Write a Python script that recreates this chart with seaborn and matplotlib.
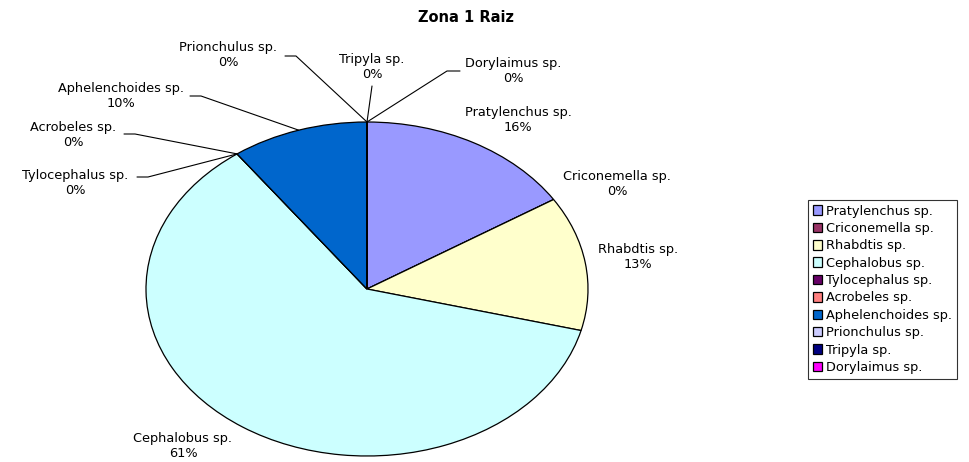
import matplotlib
matplotlib.use("Agg")
import matplotlib.pyplot as plt
import seaborn as sns
import numpy as np

# datos
especies = ["Pratylenchus sp.", "Criconemella sp.", "Rhabdtis sp.", "Cephalobus sp.",
            "Tylocephalus sp.", "Acrobeles sp.", "Aphelenchoides sp.", "Prionchulus sp.",
            "Tripyla sp.", "Dorylaimus sp."]
porcentajes = [16, 0, 13, 61, 0, 0, 10, 0, 0, 0]
colores = ["#9999FF", "#993366", "#FFFFCC", "#CCFFFF", "#660066",
           "#FF8080", "#0066CC", "#CCCCFF", "#000080", "#FF00FF"]
titulo = "Zona 1 Raiz"

# layout (pixeles de la imagen)
W, H = 970, 462
CX, CY, RX, RY = 367, 289, 221, 167
# centro del texto de cada etiqueta
pos_etiquetas = [(518, 120), (617, 184), (638, 257), (183, 446), (75, 183),
                 (73, 135), (121, 96), (228, 55), (372, 67), (513, 71)]
# inicio del tramo horizontal de la linea guia (None = sin linea)
guias = [None, None, None, None, (137, 177), (124, 134), (190, 96), (285, 56),
         (372, 86), (460, 71)]


def px(x, y):
    return (x - CX) / RX, (CY - y) / RY


sns.set_theme(style="white")
plt.rcParams["font.family"] = ["DejaVu Sans"]
plt.rcParams["text.color"] = "black"

fig = plt.figure(figsize=(W / 100, H / 100), dpi=100)
ax = fig.add_axes([0, 0, 1, 1])

wedges, _ = ax.pie(porcentajes, colors=colores, startangle=90, counterclock=False,
                   radius=1, wedgeprops=dict(edgecolor="black", linewidth=0.9))
ax.set_aspect("auto")
ax.set_xlim(px(0, 0)[0], px(W, 0)[0])
ax.set_ylim(px(0, H)[1], px(0, 0)[1])
ax.axis("off")

for w, nombre, pct, (tx, ty), g in zip(wedges, especies, porcentajes, pos_etiquetas, guias):
    x, y = px(tx, ty)
    ax.text(x, y, f"{nombre}\n{pct}%", ha="center", va="center", fontsize=9.3,
            linespacing=1.2, color="black")
    if g is not None:
        ang = np.deg2rad((w.theta1 + w.theta2) / 2)
        ex, ey = np.cos(ang), np.sin(ang)
        gx, gy = px(*g)
        if g[0] < CX - 10:
            hx = px(g[0] + 11, 0)[0]
        elif g[0] > CX + 10:
            hx = px(g[0] - 13, 0)[0]
        else:
            hx = gx
        ax.plot([gx, hx, ex], [gy, gy, ey], color="black", linewidth=0.8)

fig.text(466 / W, 1 - 17 / H, titulo, ha="center", va="center",
         fontsize=10.5, fontweight="bold", color="black")

leg = ax.legend(wedges, especies, loc="upper left", bbox_to_anchor=(808 / W, 1 - 200 / H),
                bbox_transform=fig.transFigure, fontsize=9.3, frameon=True, fancybox=False,
                edgecolor="black", handlelength=0.75, handleheight=0.75, handletextpad=0.3,
                labelspacing=0.34, borderpad=0.35, borderaxespad=0, labelcolor="black")
leg.get_frame().set_linewidth(0.8)

fig.savefig("out.png", dpi=100)
